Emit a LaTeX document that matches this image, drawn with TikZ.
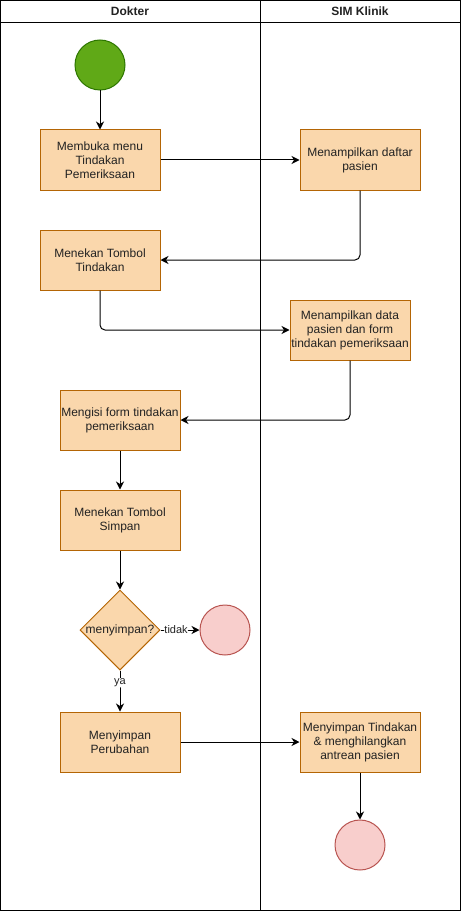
\documentclass[tikz,border=0pt]{standalone}
\usepackage{fontspec}
\setmainfont{Liberation Sans}
\usetikzlibrary{arrows.meta,shapes.geometric}
\definecolor{boxfill}{HTML}{FAD7AC}
\definecolor{boxdraw}{HTML}{B46504}
\definecolor{startfill}{HTML}{60A917}
\definecolor{startdraw}{HTML}{2D7600}
\definecolor{endfill}{HTML}{F8CECC}
\definecolor{enddraw}{HTML}{B85450}
\definecolor{txt}{HTML}{222222}
\begin{document}
\begin{tikzpicture}[x=1pt,y=-1pt,
  every node/.style={font=\fontsize{12}{14}\selectfont, text=txt},
  actbox/.style={draw=boxdraw, fill=boxfill, line width=1pt, minimum width=120pt, minimum height=60pt, align=center, inner sep=1pt},
  startc/.style={circle, draw=startdraw, fill=startfill, line width=1pt, minimum size=50pt, inner sep=0pt},
  endc/.style={circle, draw=enddraw, fill=endfill, line width=1pt, minimum size=50pt, inner sep=0pt},
  decis/.style={diamond, aspect=1, draw=boxdraw, fill=boxfill, line width=1pt, minimum width=80pt, minimum height=80pt, inner sep=0pt},
  flow/.style={draw=black, line width=1pt, -{Stealth[length=8pt,width=8pt,inset=2.5pt]}, rounded corners=5pt},
  lane/.style={draw=black, line width=1pt},
  hdr/.style={font=\bfseries\fontsize{12}{14}\selectfont, text=txt},
  lbl/.style={fill=white, inner sep=0.5pt, font=\fontsize{11}{12}\selectfont}
]
\useasboundingbox (0,0) rectangle (461,912);
% lanes
\draw[lane] (0.5,0.5) rectangle (460,910);
\draw[lane] (0.5,23) -- (460,23);
\draw[lane] (260,0.5) -- (260,910);
\node[hdr] (h1) at (130,11.5) {Dokter};
\node[hdr] (h2) at (360,11.5) {SIM Klinik};
% nodes
\node[startc] (start) at (100,65) {};
\node[actbox] (b1) at (100,160) {Membuka menu\\Tindakan\\Pemeriksaan};
\node[actbox] (b2) at (360,160) {Menampilkan daftar\\pasien};
\node[actbox] (b3) at (100,260) {Menekan Tombol\\Tindakan};
\node[actbox] (b4) at (350,330) {Menampilkan data\\pasien dan form\\tindakan pemeriksaan};
\node[actbox] (b5) at (120,420) {Mengisi form tindakan\\pemeriksaan};
\node[actbox] (b6) at (120,520) {Menekan Tombol\\Simpan};
\node[decis] (d) at (120,630) {};
\node (dtxt) at (120,630) {menyimpan?};
\node[endc] (e1) at (225,630) {};
\node[actbox] (b7) at (120,742) {Menyimpan\\Perubahan};
\node[actbox] (b8) at (360,742) {Menyimpan Tindakan\\\& menghilangkan\\antrean pasien};
\node[endc] (e2) at (360,845) {};
% connectors
\draw[flow] (start) -- (b1);
\draw[flow] (b1) -- (b2);
\draw[flow] (b2.south) |- (b3.east);
\draw[flow] (b3.south) |- (b4.west);
\draw[flow] (b4.south) |- (b5.east);
\draw[flow] (b5) -- (b6);
\draw[flow] (b6) -- (d.north);
\draw[flow] (d.east) -- node[lbl, pos=0.4] {tidak} (e1.west);
\draw[flow] (d.south) -- node[lbl, pos=0.3] {ya} (b7.north);
\draw[flow] (b7) -- (b8);
\draw[flow] (b8) -- (e2);
\end{tikzpicture}
\end{document}
